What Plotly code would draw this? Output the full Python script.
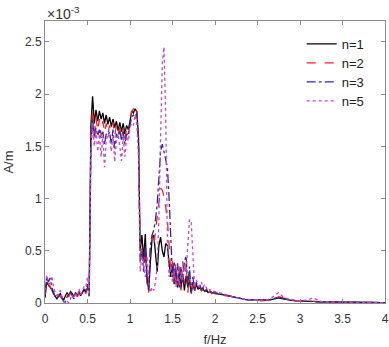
import plotly.graph_objects as go

# Frequency grid (Hz): 0.02 Hz steps up to 2 Hz, 0.05 Hz steps after
freq = [round(i * 0.02, 2) for i in range(101)] + [round(2 + 0.05 * i, 2) for i in range(1, 41)]

# Amplitudes in units of 1e-3 A/m
n1 = [0.05, 0.20, 0.17, 0.15, 0.13, 0.09, 0.06, 0.04, 0.07, 0.09,
      0.05, 0.03, 0.07, 0.10, 0.07, 0.11, 0.09, 0.06, 0.10, 0.07,
      0.10, 0.07, 0.10, 0.13, 0.10, 0.15, 0.13, 1.70, 1.98, 1.72,
      1.85, 1.74, 1.84, 1.76, 1.82, 1.72, 1.80, 1.71, 1.78, 1.69,
      1.76, 1.68, 1.74, 1.65, 1.73, 1.64, 1.72, 1.62, 1.70, 1.66,
      1.74, 1.84, 1.82, 1.86, 1.83, 1.60, 0.50, 0.65, 0.42, 0.66,
      0.25, 0.12, 0.40, 0.62, 0.65, 0.45, 0.30, 0.55, 0.63, 0.50,
      0.44, 0.57, 0.55, 0.38, 0.25, 0.35, 0.18, 0.32, 0.15, 0.30,
      0.14, 0.28, 0.12, 0.26, 0.15, 0.22, 0.10, 0.20, 0.12, 0.18,
      0.13, 0.15, 0.12, 0.13, 0.11, 0.12, 0.10, 0.11, 0.10, 0.10,
      0.09,
      0.085, 0.08, 0.07, 0.06, 0.05, 0.04, 0.035, 0.03, 0.03, 0.025,
      0.025, 0.03, 0.03, 0.04, 0.05, 0.04, 0.03, 0.025, 0.02, 0.02,
      0.018, 0.015, 0.015, 0.012, 0.012, 0.01, 0.01, 0.01, 0.008, 0.008,
      0.007, 0.007, 0.006, 0.006, 0.005, 0.005, 0.005, 0.004, 0.004, 0.004]

n2 = [0.08, 0.22, 0.18, 0.16, 0.12, 0.10, 0.07, 0.05, 0.08, 0.06,
      0.03, 0.02, 0.05, 0.08, 0.06, 0.10, 0.08, 0.05, 0.09, 0.06,
      0.09, 0.06, 0.09, 0.11, 0.09, 0.14, 0.12, 1.60, 1.86, 1.62,
      1.78, 1.65, 1.76, 1.60, 1.74, 1.63, 1.72, 1.62, 1.70, 1.65,
      1.73, 1.60, 1.70, 1.62, 1.68, 1.58, 1.66, 1.56, 1.68, 1.62,
      1.72, 1.83, 1.86, 1.84, 1.87, 1.55, 0.45, 0.55, 0.35, 0.50,
      0.15, 0.10, 0.55, 0.65, 0.55, 0.70, 0.80, 1.00, 1.10, 1.08,
      1.02, 0.92, 0.80, 0.55, 0.30, 0.40, 0.20, 0.38, 0.15, 0.35,
      0.12, 0.40, 0.18, 0.38, 0.10, 0.25, 0.08, 0.22, 0.12, 0.18,
      0.14, 0.16, 0.12, 0.14, 0.11, 0.12, 0.10, 0.11, 0.09, 0.10,
      0.09,
      0.08, 0.075, 0.07, 0.06, 0.05, 0.04, 0.035, 0.03, 0.025, 0.025,
      0.02, 0.025, 0.03, 0.04, 0.06, 0.05, 0.035, 0.025, 0.02, 0.02,
      0.018, 0.015, 0.012, 0.012, 0.01, 0.01, 0.01, 0.008, 0.008, 0.007,
      0.007, 0.006, 0.006, 0.005, 0.005, 0.005, 0.004, 0.004, 0.004, 0.003]

n3 = [0.10, 0.25, 0.20, 0.24, 0.15, 0.10, 0.06, 0.05, 0.06, 0.08,
      0.04, 0.01, 0.01, 0.06, 0.08, 0.10, 0.07, 0.04, 0.08, 0.07,
      0.11, 0.08, 0.10, 0.14, 0.12, 0.18, 0.05, 1.50, 1.76, 1.58,
      1.68, 1.60, 1.66, 1.58, 1.64, 1.52, 1.62, 1.60, 1.64, 1.52,
      1.66, 1.48, 1.62, 1.58, 1.66, 1.55, 1.64, 1.52, 1.62, 1.60,
      1.70, 1.78, 1.80, 1.78, 1.82, 1.50, 0.40, 0.50, 0.30, 0.55,
      0.20, 0.12, 0.55, 0.65, 0.70, 0.80, 0.95, 1.20, 1.45, 1.52,
      1.45, 1.35, 1.30, 1.00, 0.55, 0.25, 0.40, 0.18, 0.38, 0.15,
      0.35, 0.20, 0.40, 0.45, 0.15, 0.35, 0.10, 0.25, 0.12, 0.20,
      0.14, 0.18, 0.13, 0.15, 0.12, 0.13, 0.11, 0.12, 0.10, 0.10,
      0.10,
      0.09, 0.08, 0.07, 0.065, 0.05, 0.045, 0.035, 0.03, 0.03, 0.025,
      0.025, 0.03, 0.035, 0.045, 0.055, 0.045, 0.035, 0.03, 0.025, 0.02,
      0.018, 0.016, 0.014, 0.012, 0.012, 0.01, 0.01, 0.009, 0.008, 0.008,
      0.007, 0.007, 0.006, 0.006, 0.005, 0.005, 0.005, 0.004, 0.004, 0.004]

n5 = [0.12, 0.27, 0.20, 0.18, 0.26, 0.15, 0.10, 0.07, 0.10, 0.12,
      0.06, 0.02, 0.00, 0.02, 0.00, 0.05, 0.08, 0.04, 0.10, 0.06,
      0.14, 0.08, 0.12, 0.16, 0.15, 0.25, 0.10, 1.45, 1.70, 1.50,
      1.65, 1.45, 1.62, 1.40, 1.60, 1.30, 1.55, 1.62, 1.58, 1.45,
      1.60, 1.35, 1.55, 1.62, 1.50, 1.36, 1.58, 1.40, 1.60, 1.55,
      1.68, 1.72, 1.70, 1.80, 1.72, 1.40, 0.30, 0.45, 0.35, 0.25,
      0.45, 0.20, 0.10, 0.15, 0.12, 0.20, 0.35, 0.80, 1.60, 2.30,
      2.45, 1.80, 0.60, 0.25, 0.35, 0.20, 0.30, 0.15, 0.25, 0.18,
      0.30, 0.22, 0.35, 0.30, 0.55, 0.80, 0.78, 0.40, 0.15, 0.22,
      0.18, 0.16, 0.20, 0.15, 0.18, 0.14, 0.15, 0.12, 0.13, 0.11,
      0.11,
      0.10, 0.09, 0.075, 0.06, 0.05, 0.04, 0.035, 0.03, 0.03, 0.03,
      0.035, 0.03, 0.04, 0.07, 0.10, 0.06, 0.04, 0.03, 0.025, 0.02,
      0.025, 0.03, 0.05, 0.03, 0.015, 0.012, 0.01, 0.01, 0.008, 0.008,
      0.007, 0.007, 0.006, 0.006, 0.005, 0.005, 0.005, 0.004, 0.004, 0.004]

series_names = ["n=1", "n=2", "n=3", "n=5"]
series_vals = [n1, n2, n3, n5]
colors = ["#000000", "#ff2020", "#2a2aa0", "#cc44cc"]
dashes = ["solid", "dash", "dashdot", "dot"]

x_ticks = [0, 0.5, 1, 1.5, 2, 2.5, 3, 3.5, 4]
y_ticks = [0, 0.5, 1, 1.5, 2, 2.5]

FONT = "Liberation Sans, Arial, sans-serif"
legend_ids = ["legend", "legend2", "legend3", "legend4"]

fig = go.Figure()
for name, vals, c, d, lg in zip(series_names, series_vals, colors, dashes, legend_ids):
    fig.add_trace(go.Scatter(x=freq, y=vals, mode="lines", name=name, legend=lg,
                             line=dict(color=c, dash=d, width=1.3)))

axis_common = dict(showline=True, linecolor="#8a8a8a", linewidth=1, mirror="ticks",
                   ticks="inside", ticklen=4, tickcolor="#8a8a8a", automargin=False,
                   showgrid=False, zeroline=False, ticklabeloverflow="allow",
                   tickfont=dict(family=FONT, size=12, color="#333333"))

# one legend box per entry so the row spacing matches the reference
plot_top, plot_bottom = 21, 303
row_px = [44, 63, 82, 101]
legends = {}
for lg, ypx in zip(legend_ids, row_px):
    legends[lg] = dict(x=0.755, y=(plot_bottom - ypx) / (plot_bottom - plot_top),
                       xanchor="left", yanchor="middle",
                       bgcolor="rgba(255,255,255,0)", borderwidth=0,
                       font=dict(family=FONT, size=13, color="#222222"))

fig.update_layout(
    width=389, height=347,
    margin=dict(l=45, r=4, t=21, b=44, autoexpand=False),
    paper_bgcolor="white", plot_bgcolor="white",
    font=dict(family=FONT, size=12, color="#333333"),
    xaxis=dict(range=[0, 4], tickvals=x_ticks, ticktext=[f"{t:g}" for t in x_ticks],
               ticklabelstandoff=5,
               title=dict(text="f/Hz", standoff=10, font=dict(size=13)), **axis_common),
    yaxis=dict(range=[0, 2.7], tickvals=y_ticks, ticktext=[f"{t:g}" for t in y_ticks],
               title=dict(text="A/m", standoff=8, font=dict(size=13)), **axis_common),
    showlegend=True,
    **legends,
)

fig.add_annotation(x=0, y=1, xref="paper", yref="paper", xanchor="left", yanchor="bottom",
                   text="×10<sup>-3</sup>", showarrow=False,
                   font=dict(family=FONT, size=14, color="#333333"), yshift=-3)

fig.write_html("out.html", config={"displayModeBar": False},
               post_script="document.body.style.margin='0px';")
